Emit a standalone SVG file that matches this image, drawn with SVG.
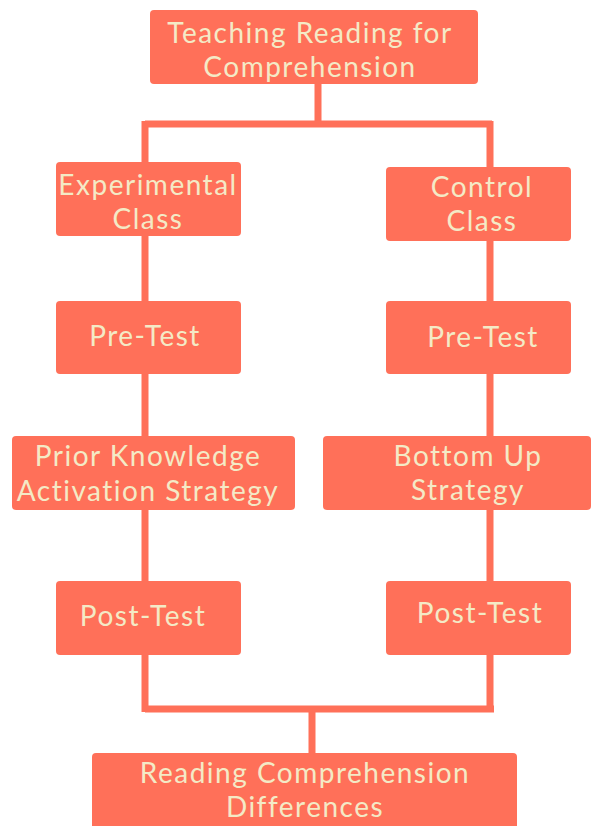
<svg xmlns="http://www.w3.org/2000/svg" width="594" height="826" viewBox="0 0 594 826">
<style>
.box{fill:#FF7059;}
.t{font-family:Lato,"Open Sans",sans-serif;font-size:28px;letter-spacing:1.5px;fill:#F4EAC6;text-anchor:middle;}
.c{fill:none;stroke:#FF7059;stroke-width:7;}
</style>
<rect width="594" height="826" fill="#fff"/>
<g id="connectors">
<path class="c" d="M318 84 V124 M145 124 H492 M145 121 V712 M490 121 V712 M145 709 H494 M312 709 V756"/>
</g>
<g id="n-top"><rect class="box" x="150" y="10" width="328" height="74" rx="4"/><text class="t" x="310" y="43">Teaching Reading for</text><text class="t" x="310" y="77">Comprehension</text></g>
<g id="n-exp"><rect class="box" x="56" y="162" width="185" height="74" rx="4"/><text class="t" x="148" y="195">Experimental</text><text class="t" x="148" y="229">Class</text></g>
<g id="n-ctl"><rect class="box" x="386" y="167" width="185" height="74" rx="4"/><text class="t" x="482" y="197">Control</text><text class="t" x="482" y="231">Class</text></g>
<g id="n-pre-l"><rect class="box" x="56" y="301" width="185" height="73" rx="4"/><text class="t" x="145" y="346">Pre-Test</text></g>
<g id="n-pre-r"><rect class="box" x="386" y="301" width="185" height="73" rx="4"/><text class="t" x="483" y="347">Pre-Test</text></g>
<g id="n-pka"><rect class="box" x="12" y="436" width="283" height="74" rx="4"/><text class="t" x="148" y="466">Prior Knowledge</text><text class="t" x="148" y="501">Activation Strategy</text></g>
<g id="n-bus"><rect class="box" x="323" y="436" width="268" height="74" rx="4"/><text class="t" x="468" y="466">Bottom Up</text><text class="t" x="468" y="500">Strategy</text></g>
<g id="n-post-l"><rect class="box" x="56" y="581" width="185" height="74" rx="4"/><text class="t" x="143" y="626">Post-Test</text></g>
<g id="n-post-r"><rect class="box" x="386" y="581" width="185" height="74" rx="4"/><text class="t" x="480" y="623">Post-Test</text></g>
<g id="n-rcd"><rect class="box" x="92" y="753" width="425" height="80" rx="4"/><text class="t" x="305" y="783">Reading Comprehension</text><text class="t" x="305" y="817">Differences</text></g>
</svg>
